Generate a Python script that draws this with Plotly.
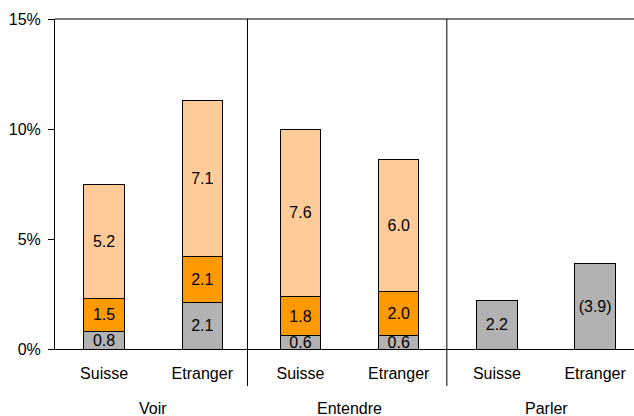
import plotly.graph_objects as go

# categories (two levels)
groups = ["Voir", "Entendre", "Parler"]
origins = ["Suisse", "Etranger", "Suisse", "Etranger", "Suisse", "Etranger"]

# stacked values in %, bottom to top
seg_grey = [0.8, 2.1, 0.6, 0.6, 2.2, 3.9]
seg_orange = [1.5, 2.1, 1.8, 2.0, None, None]
seg_peach = [5.2, 7.1, 7.6, 6.0, None, None]

grey_text = ["0.8", "2.1", "0.6", "0.6", "2.2", "(3.9)"]

y_ticks = [0, 5, 10, 15]
y_ticktext = ["0%", "5%", "10%", "15%"]

x = list(range(len(origins)))
font = dict(family="Liberation Sans, Arial, sans-serif", size=16, color="black")


def txt(vals):
    return ["" if v is None else f"{v:.1f}" for v in vals]


fig = go.Figure()
for vals, color, labels in [
    (seg_grey, "#b2b2b2", grey_text),
    (seg_orange, "#ff9900", txt(seg_orange)),
    (seg_peach, "#ffcc99", txt(seg_peach)),
]:
    fig.add_trace(go.Bar(
        x=x, y=vals, text=labels, textposition="inside",
        insidetextanchor="middle", constraintext="none",
        textfont=font, width=0.41,
        marker=dict(color=color, line=dict(color="black", width=1)),
        showlegend=False, hoverinfo="skip",
    ))

fig.update_layout(
    barmode="stack",
    width=634, height=416,
    margin=dict(l=55, r=0, t=19, b=67),
    plot_bgcolor="white", paper_bgcolor="white",
    font=font,
)
fig.update_xaxes(
    range=[-0.5, 5.396], tickvals=x, ticktext=origins,
    showline=True, linecolor="black", linewidth=1,
    ticks="", showgrid=False, zeroline=False, ticklabelstandoff=10,
)
fig.update_yaxes(
    range=[0, 15], tickvals=y_ticks, ticktext=y_ticktext,
    showline=True, linecolor="black", linewidth=1,
    ticks="outside", ticklen=6, tickcolor="black",
    showgrid=False, zeroline=False, ticklabelstandoff=4,
)

# top frame line
fig.add_shape(type="line", xref="paper", yref="paper", x0=0, x1=1, y0=1, y1=1,
              line=dict(color="black", width=1))
# group separators
for sx in [1.46, 3.49]:
    fig.add_shape(type="line", xref="x", yref="paper", x0=sx, x1=sx, y0=-0.112, y1=1,
                  line=dict(color="black", width=1))

# group labels
for i, g in enumerate(groups):
    fig.add_annotation(x=2 * i + 0.5, xref="x", y=-0.179, yref="paper",
                       text=g, showarrow=False, yanchor="middle", font=font)

fig.write_html("out.html", config={"displayModeBar": False},
               post_script="document.body.style.margin='0';")
